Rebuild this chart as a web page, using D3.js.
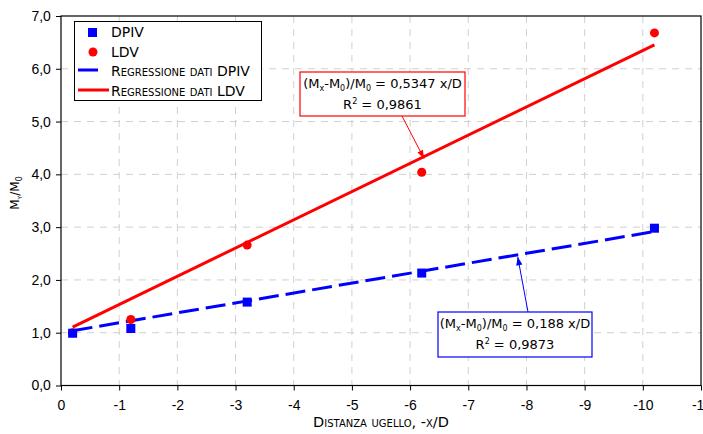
<!DOCTYPE html>
<html>
<head>
<meta charset="utf-8">
<script src="https://cdn.jsdelivr.net/npm/d3@7"></script>
<style>
  body { margin: 0; background: #fff; }
  svg { font-family: "DejaVu Sans", sans-serif; }
  .grid line { stroke: #d0d0d0; stroke-dasharray: 7,6; }
  .sc { font-variant: small-caps; }
</style>
</head>
<body>
<svg id="chart" width="703" height="434"></svg>
<script>
// Dati
const xDpiv = [-0.2, -1.2, -3.2, -6.2, -10.2];
const yDpiv = [0.99, 1.08, 1.58, 2.13, 2.98];
const xLdv = [-0.2, -1.2, -3.2, -6.2, -10.2];
const yLdv = [1.0, 1.25, 2.66, 4.04, 6.68];
const slopeDpiv = 0.188, slopeLdv = 0.5347;
const xTicks = [0, -1, -2, -3, -4, -5, -6, -7, -8, -9, -10, -11];
const yTicks = [0, 1, 2, 3, 4, 5, 6, 7];

let svg = d3.select("#chart");
const mLeft = 61, mRight = 701, mTop = 16, mBottom = 385.5;

let x = d3.scaleLinear().domain([0, -11]).range([mLeft, mRight]);
let y = d3.scaleLinear().domain([0, 7]).range([mBottom, mTop]);
const fmt = d => d3.format(".1f")(d).replace(".", ",");

// griglia
let grid = svg.append("g").attr("class", "grid");
grid.selectAll(".vx").data(xTicks.slice(1, -1)).enter().append("line")
    .attr("x1", d => x(d)).attr("x2", d => x(d)).attr("y1", mTop).attr("y2", mBottom);
grid.selectAll(".hy").data(yTicks.slice(1, -1)).enter().append("line")
    .attr("x1", mLeft).attr("x2", mRight).attr("y1", d => y(d)).attr("y2", d => y(d));

// cornice
svg.append("rect").attr("x", mLeft).attr("y", mTop)
    .attr("width", mRight - mLeft).attr("height", mBottom - mTop)
    .attr("fill", "none").attr("stroke", "#000").attr("stroke-width", 1.2);

// assi
let xAxis = svg.append("g").attr("transform", `translate(0,${mBottom})`)
    .call(d3.axisBottom(x).tickValues(xTicks).tickSize(5).tickFormat(d => d === 0 ? "0" : "-" + Math.abs(d)));
let yAxis = svg.append("g").attr("transform", `translate(${mLeft},0)`)
    .call(d3.axisLeft(y).tickValues(yTicks).tickSize(5).tickFormat(fmt));
[xAxis, yAxis].forEach(a => {
    a.select(".domain").remove();
    a.selectAll("line").attr("stroke", "#000");
    a.selectAll("text").attr("font-size", 14).attr("fill", "#000");
});
xAxis.selectAll("text").attr("dy", "1.2em");
yAxis.selectAll("text").attr("dx", "-0.15em");

// titoli assi
svg.append("text").attr("class", "sc").attr("x", 381).attr("y", 427)
    .attr("text-anchor", "middle").attr("font-size", 14.5).text("Distanza ugello, -x/D");
let yl = svg.append("text").attr("transform", "translate(19,193) rotate(-90)")
    .attr("text-anchor", "middle").attr("font-size", 12).attr("font-variant", "small-caps");
yl.append("tspan").text("M");
yl.append("tspan").attr("font-size", 8).attr("dy", 3).text("y");
yl.append("tspan").attr("dy", -3).text("/M");
yl.append("tspan").attr("font-size", 8).attr("dy", 3).text("0");

// rette di regressione
let line = d3.line().x(d => x(d[0])).y(d => y(d[1]));
const ends = [-0.2, -10.2];
svg.append("path").datum(ends.map(v => [v, 1 - slopeDpiv * v]))
    .attr("d", line).attr("stroke", "#0000ff").attr("stroke-width", 3)
    .attr("stroke-dasharray", "20,7").attr("fill", "none");
svg.append("path").datum(ends.map(v => [v, 1 - slopeLdv * v]))
    .attr("d", line).attr("stroke", "#ff0000").attr("stroke-width", 3).attr("fill", "none");

// punti
svg.selectAll(".ldv").data(xLdv).enter().append("circle")
    .attr("cx", d => x(d)).attr("cy", (d, i) => y(yLdv[i])).attr("r", 4.5).attr("fill", "#ff0000");
svg.selectAll(".dpiv").data(xDpiv).enter().append("rect")
    .attr("x", d => x(d) - 4.5).attr("y", (d, i) => y(yDpiv[i]) - 4.5)
    .attr("width", 9).attr("height", 9).attr("fill", "#0000ff");

// legenda
let lg = svg.append("g");
lg.append("rect").attr("x", 74.5).attr("y", 21.5).attr("width", 187).attr("height", 79)
    .attr("fill", "#fff").attr("stroke", "#000");
lg.append("rect").attr("x", 88).attr("y", 28).attr("width", 9).attr("height", 9).attr("fill", "#0000ff");
lg.append("circle").attr("cx", 93).attr("cy", 52).attr("r", 4.5).attr("fill", "#ff0000");
lg.append("line").attr("x1", 78).attr("x2", 98).attr("y1", 70).attr("y2", 70)
    .attr("stroke", "#0000ff").attr("stroke-width", 3);
lg.append("line").attr("x1", 78).attr("x2", 109).attr("y1", 90).attr("y2", 90)
    .attr("stroke", "#ff0000").attr("stroke-width", 3);
const legendLabels = ["DPIV", "LDV", "Regressione dati DPIV", "Regressione dati LDV"];
lg.selectAll(".lt").data(legendLabels).enter().append("text")
    .attr("class", (d, i) => i > 1 ? "sc" : null)
    .attr("x", 111).attr("y", (d, i) => 37 + i * 19.5)
    .attr("font-size", 14).text(d => d);

// annotazioni
function annot(bx, by, bw, bh, col, slope, r2, ax1, ay1, ax2, ay2) {
    let g = svg.append("g");
    g.append("line").attr("x1", ax1).attr("y1", ay1).attr("x2", ax2).attr("y2", ay2)
        .attr("stroke", col).attr("stroke-width", 1);
    const ang = Math.atan2(ay2 - ay1, ax2 - ax1);
    const p = (a, l) => [ax2 - l * Math.cos(ang + a), ay2 - l * Math.sin(ang + a)];
    g.append("path").attr("d", "M" + [ax2, ay2] + "L" + p(0.35, 9) + "L" + p(-0.35, 9) + "Z").attr("fill", col);
    g.append("rect").attr("x", bx).attr("y", by).attr("width", bw).attr("height", bh)
        .attr("fill", "#fff").attr("stroke", col).attr("stroke-width", 1.2);
    let t1 = g.append("text").attr("x", bx + bw / 2).attr("y", by + 16)
        .attr("text-anchor", "middle").attr("font-size", 13);
    t1.append("tspan").text("(M");
    t1.append("tspan").attr("font-size", 8).attr("dy", 3).text("x");
    t1.append("tspan").attr("dy", -3).text("-M");
    t1.append("tspan").attr("font-size", 8).attr("dy", 3).text("0");
    t1.append("tspan").attr("dy", -3).text(")/M");
    t1.append("tspan").attr("font-size", 8).attr("dy", 3).text("0");
    t1.append("tspan").attr("dy", -3).text(" = " + slope + " x/D");
    let t2 = g.append("text").attr("x", bx + bw / 2).attr("y", by + 37)
        .attr("text-anchor", "middle").attr("font-size", 13);
    t2.append("tspan").text("R");
    t2.append("tspan").attr("font-size", 8).attr("dy", -5).text("2");
    t2.append("tspan").attr("dy", 5).text(" = " + r2);
}
annot(300, 72, 165, 44, "#ff0000", "0,5347", "0,9861", 402, 116, x(-6.24), y(1 + slopeLdv * 6.24) + 2);
annot(438, 312, 154, 45, "#0000ff", "0,188", "0,9873", 528, 312, x(-7.85), y(1 + slopeDpiv * 7.85) + 2);
</script>
</body>
</html>
